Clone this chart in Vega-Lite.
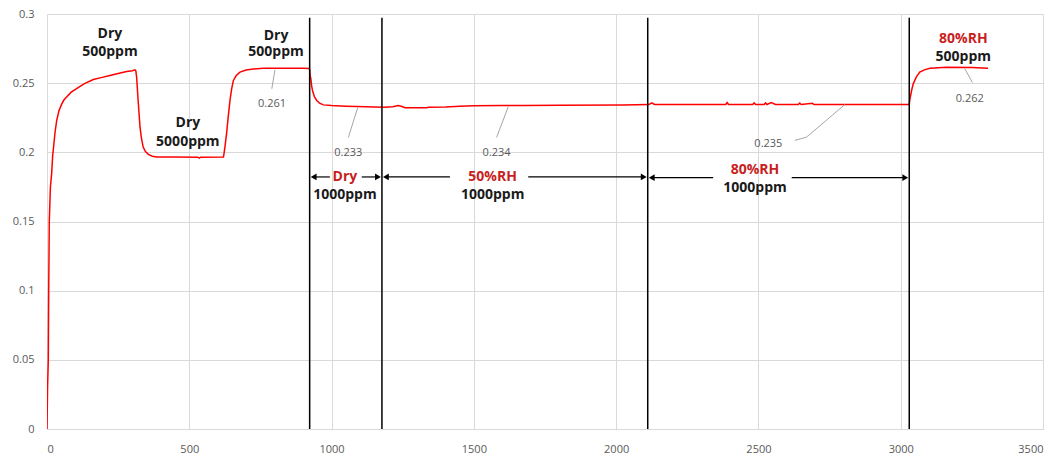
{
  "$schema": "https://vega.github.io/schema/vega-lite/v6.json",
  "width": 996,
  "height": 415,
  "autosize": {"type": "none"},
  "padding": {"left": 47, "top": 14, "right": 18, "bottom": 28},
  "background": "white",
  "config": {
    "view": {"stroke": null},
    "axis": {
      "gridColor": "#d9d9d9",
      "gridWidth": 1,
      "domainColor": "#d9d9d9",
      "ticks": false,
      "labelColor": "#595959",
      "labelFont": "Open Sans",
      "labelFontSize": 11,
      "title": null
    }
  },
  "datasets": {
    "curve": [
      {"x": 0, "y": 0}, {"x": 2, "y": 0.03}, {"x": 4.6, "y": 0.05}, {"x": 6, "y": 0.1}, {"x": 8, "y": 0.15},
      {"x": 12, "y": 0.175}, {"x": 16.5, "y": 0.185}, {"x": 20, "y": 0.198}, {"x": 22, "y": 0.2015},
      {"x": 28, "y": 0.214}, {"x": 34, "y": 0.223}, {"x": 42, "y": 0.23}, {"x": 52, "y": 0.235},
      {"x": 60, "y": 0.238}, {"x": 69, "y": 0.24}, {"x": 85, "y": 0.2435}, {"x": 104, "y": 0.246},
      {"x": 130, "y": 0.2495}, {"x": 163, "y": 0.2526}, {"x": 190, "y": 0.254}, {"x": 221, "y": 0.2555},
      {"x": 250, "y": 0.257}, {"x": 280, "y": 0.2584}, {"x": 300, "y": 0.259}, {"x": 309, "y": 0.2596},
      {"x": 312, "y": 0.259}, {"x": 315, "y": 0.2543}, {"x": 320, "y": 0.238}, {"x": 327, "y": 0.218},
      {"x": 332, "y": 0.21}, {"x": 338, "y": 0.2038}, {"x": 346, "y": 0.2005}, {"x": 356, "y": 0.1985},
      {"x": 370, "y": 0.1972}, {"x": 386, "y": 0.1966}, {"x": 450, "y": 0.1966}, {"x": 530, "y": 0.1965},
      {"x": 535, "y": 0.1958}, {"x": 540, "y": 0.1965}, {"x": 620, "y": 0.1966}, {"x": 622, "y": 0.199},
      {"x": 626, "y": 0.205}, {"x": 631, "y": 0.2135}, {"x": 637, "y": 0.226}, {"x": 643, "y": 0.2375},
      {"x": 649, "y": 0.246}, {"x": 655, "y": 0.252}, {"x": 665, "y": 0.2555}, {"x": 678, "y": 0.258},
      {"x": 700, "y": 0.2595}, {"x": 725, "y": 0.2603}, {"x": 760, "y": 0.2607}, {"x": 850, "y": 0.2608},
      {"x": 900, "y": 0.2608}, {"x": 921, "y": 0.2606}, {"x": 923, "y": 0.26}, {"x": 925, "y": 0.255},
      {"x": 927, "y": 0.2535}, {"x": 930, "y": 0.248}, {"x": 933, "y": 0.2447}, {"x": 940, "y": 0.24},
      {"x": 948, "y": 0.2375}, {"x": 958, "y": 0.2355}, {"x": 971, "y": 0.2343}, {"x": 1000, "y": 0.2338},
      {"x": 1050, "y": 0.2334}, {"x": 1088, "y": 0.2332}, {"x": 1150, "y": 0.2328}, {"x": 1182, "y": 0.2326},
      {"x": 1200, "y": 0.2328}, {"x": 1215, "y": 0.233}, {"x": 1234, "y": 0.2339}, {"x": 1245, "y": 0.2333},
      {"x": 1258, "y": 0.2322}, {"x": 1300, "y": 0.2322}, {"x": 1334, "y": 0.2322}, {"x": 1340, "y": 0.2326},
      {"x": 1400, "y": 0.2327}, {"x": 1451, "y": 0.2334}, {"x": 1500, "y": 0.2336}, {"x": 1600, "y": 0.2338},
      {"x": 1674, "y": 0.2339}, {"x": 1800, "y": 0.2341}, {"x": 2025, "y": 0.2343}, {"x": 2115, "y": 0.2345},
      {"x": 2125, "y": 0.2358}, {"x": 2135, "y": 0.2346}, {"x": 2259, "y": 0.2346}, {"x": 2385, "y": 0.2346},
      {"x": 2390, "y": 0.236}, {"x": 2395, "y": 0.2346}, {"x": 2480, "y": 0.2346}, {"x": 2485, "y": 0.2358},
      {"x": 2490, "y": 0.2346}, {"x": 2520, "y": 0.2346}, {"x": 2525, "y": 0.2357}, {"x": 2530, "y": 0.2346},
      {"x": 2545, "y": 0.236}, {"x": 2560, "y": 0.2346}, {"x": 2640, "y": 0.2346}, {"x": 2645, "y": 0.2356},
      {"x": 2650, "y": 0.2346}, {"x": 2690, "y": 0.2355}, {"x": 2695, "y": 0.2346}, {"x": 3000, "y": 0.2346},
      {"x": 3030, "y": 0.2346}, {"x": 3032, "y": 0.238}, {"x": 3038, "y": 0.2445}, {"x": 3044, "y": 0.2495},
      {"x": 3055, "y": 0.2545}, {"x": 3067, "y": 0.258}, {"x": 3085, "y": 0.2598}, {"x": 3103, "y": 0.2608},
      {"x": 3161, "y": 0.2615}, {"x": 3250, "y": 0.2613}, {"x": 3307, "y": 0.2608}
    ],
    "vlines": [
      {"x": 923, "y": 0, "y2": 0.2973}, {"x": 1177, "y": 0, "y2": 0.2973},
      {"x": 2111, "y": 0, "y2": 0.2973}, {"x": 3030, "y": 0, "y2": 0.2973}
    ],
    "arrows": [
      {"x": 935, "x2": 994, "y": 0.1822}, {"x": 1106, "x2": 1165, "y": 0.1822},
      {"x": 1189, "x2": 1416, "y": 0.1822}, {"x": 1691, "x2": 2099, "y": 0.1822},
      {"x": 2123, "x2": 2341, "y": 0.1817}, {"x": 2617, "x2": 3018, "y": 0.1817}
    ],
    "heads": [
      {"x": 937, "y": 0.1822, "dir": "triangle-left"}, {"x": 1163, "y": 0.1822, "dir": "triangle-right"},
      {"x": 1191, "y": 0.1822, "dir": "triangle-left"}, {"x": 2097, "y": 0.1822, "dir": "triangle-right"},
      {"x": 2125, "y": 0.1817, "dir": "triangle-left"}, {"x": 3016, "y": 0.1817, "dir": "triangle-right"}
    ],
    "leaders": [
      {"id": "a", "o": 1, "x": 790, "y": 0.2459}, {"id": "a", "o": 2, "x": 801, "y": 0.2596},
      {"id": "b", "o": 1, "x": 1059, "y": 0.2108}, {"id": "b", "o": 2, "x": 1092, "y": 0.2324},
      {"id": "c", "o": 1, "x": 1580, "y": 0.2108}, {"id": "c", "o": 2, "x": 1621, "y": 0.2331},
      {"id": "d", "o": 1, "x": 2628, "y": 0.2086}, {"id": "d", "o": 2, "x": 2669, "y": 0.211}, {"id": "d", "o": 3, "x": 2804, "y": 0.2346},
      {"id": "e", "o": 1, "x": 3252, "y": 0.2504}, {"id": "e", "o": 2, "x": 3225, "y": 0.2605}
    ],
    "labels": [
      {"t": "Dry", "x": 221, "y": 0.2858, "c": "#1a1a1a"},
      {"t": "500ppm", "x": 221, "y": 0.2722, "c": "#1a1a1a"},
      {"t": "Dry", "x": 495, "y": 0.2209, "c": "#1a1a1a"},
      {"t": "5000ppm", "x": 495, "y": 0.2072, "c": "#1a1a1a"},
      {"t": "Dry", "x": 805, "y": 0.2844, "c": "#1a1a1a"},
      {"t": "500ppm", "x": 805, "y": 0.2722, "c": "#1a1a1a"},
      {"t": "Dry", "x": 1047, "y": 0.1822, "c": "#c81e1e"},
      {"t": "1000ppm", "x": 1047, "y": 0.169, "c": "#1a1a1a"},
      {"t": "50%RH", "x": 1566, "y": 0.1822, "c": "#c81e1e"},
      {"t": "1000ppm", "x": 1566, "y": 0.169, "c": "#1a1a1a"},
      {"t": "80%RH", "x": 2488, "y": 0.1875, "c": "#c81e1e"},
      {"t": "1000ppm", "x": 2488, "y": 0.1742, "c": "#1a1a1a"},
      {"t": "80%RH", "x": 3220, "y": 0.2822, "c": "#c81e1e"},
      {"t": "500ppm", "x": 3220, "y": 0.2692, "c": "#1a1a1a"}
    ],
    "values": [
      {"t": "0.261", "x": 791, "y": 0.2353},
      {"t": "0.233", "x": 1059, "y": 0.1998},
      {"t": "0.234", "x": 1580, "y": 0.1998},
      {"t": "0.235", "x": 2535, "y": 0.2062},
      {"t": "0.262", "x": 3243, "y": 0.2382}
    ]
  },
  "layer": [
    {
      "data": {"name": "curve"},
      "mark": {"type": "line", "color": "#ff0000", "strokeWidth": 1.5, "clip": true},
      "encoding": {
        "x": {"field": "x", "type": "quantitative", "scale": {"domain": [0, 3500], "nice": false},
          "axis": {"values": [0, 500, 1000, 1500, 2000, 2500, 3000, 3500], "format": "d", "labelPadding": 14, "grid": true}},
        "y": {"field": "y", "type": "quantitative", "scale": {"domain": [0, 0.3], "nice": false},
          "axis": {"values": [0, 0.05, 0.1, 0.15, 0.2, 0.25, 0.3], "format": ".2~f", "labelPadding": 13, "grid": true, "domain": false}}
      }
    },
    {
      "data": {"name": "vlines"},
      "mark": {"type": "rule", "color": "#000000", "strokeWidth": 1.5},
      "encoding": {
        "x": {"field": "x", "type": "quantitative"},
        "y": {"field": "y", "type": "quantitative"},
        "y2": {"field": "y2"}
      }
    },
    {
      "data": {"name": "arrows"},
      "mark": {"type": "rule", "color": "#000000", "strokeWidth": 1.2},
      "encoding": {
        "x": {"field": "x", "type": "quantitative"},
        "x2": {"field": "x2"},
        "y": {"field": "y", "type": "quantitative"}
      }
    },
    {
      "data": {"name": "heads"},
      "mark": {"type": "point", "filled": true, "color": "#000000", "size": 45, "opacity": 1},
      "encoding": {
        "x": {"field": "x", "type": "quantitative"},
        "y": {"field": "y", "type": "quantitative"},
        "shape": {"field": "dir", "type": "nominal", "scale": null}
      }
    },
    {
      "data": {"name": "leaders"},
      "mark": {"type": "line", "color": "#a6a6a6", "strokeWidth": 1},
      "encoding": {
        "x": {"field": "x", "type": "quantitative"},
        "y": {"field": "y", "type": "quantitative"},
        "detail": {"field": "id", "type": "nominal"},
        "order": {"field": "o", "type": "quantitative"}
      }
    },
    {
      "data": {"name": "labels"},
      "mark": {"type": "text", "font": "Open Sans", "fontWeight": "bold", "fontSize": 14, "baseline": "middle", "align": "center"},
      "encoding": {
        "x": {"field": "x", "type": "quantitative"},
        "y": {"field": "y", "type": "quantitative"},
        "text": {"field": "t", "type": "nominal"},
        "color": {"field": "c", "type": "nominal", "scale": null}
      }
    },
    {
      "data": {"name": "values"},
      "mark": {"type": "text", "font": "Open Sans", "fontSize": 11, "baseline": "middle", "align": "center", "color": "#595959"},
      "encoding": {
        "x": {"field": "x", "type": "quantitative"},
        "y": {"field": "y", "type": "quantitative"},
        "text": {"field": "t", "type": "nominal"}
      }
    }
  ]
}
